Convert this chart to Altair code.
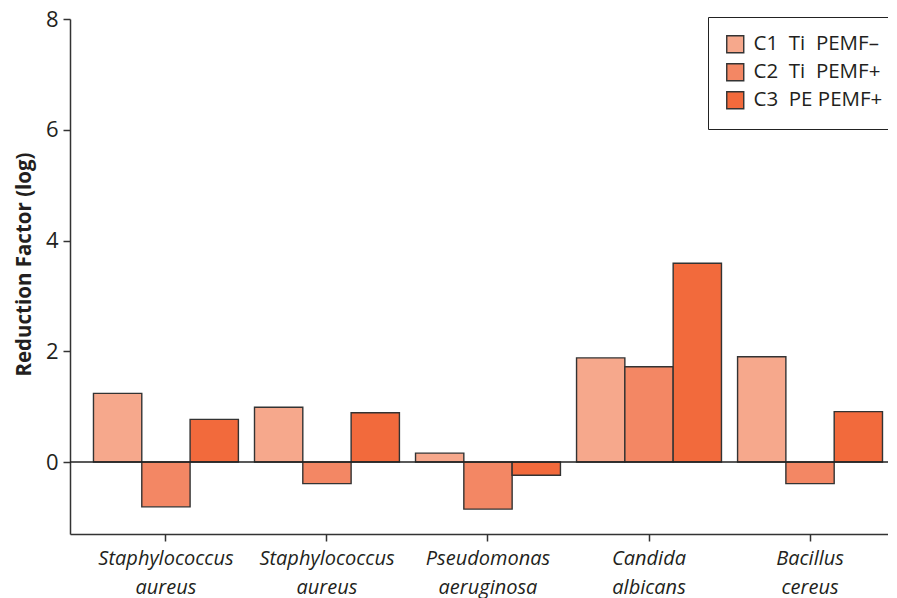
import altair as alt
import pandas as pd

species = ["Staphylococcus aureus|1", "Staphylococcus aureus|2", "Pseudomonas aeruginosa|3",
           "Candida albicans|4", "Bacillus cereus|5"]
series = ["C1\u00a0\u00a0Ti\u00a0\u00a0PEMF\u2013", "C2\u00a0\u00a0Ti\u00a0\u00a0PEMF+", "C3\u00a0\u00a0PE\u00a0PEMF+"]
c1 = [1.24, 0.99, 0.16, 1.88, 1.90]
c2 = [-0.81, -0.39, -0.85, 1.72, -0.39]
c3 = [0.77, 0.89, -0.24, 3.59, 0.91]
colors = ["#F6A88C", "#F38764", "#F26A3C"]
y_ticks = [0, 2, 4, 6, 8]

rows = []
for vals, s in zip([c1, c2, c3], series):
    for sp, v in zip(species, vals):
        rows.append({"species": sp, "series": s, "value": v})
df = pd.DataFrame(rows)

FONT = "Open Sans"
TXT = "#231f20"

bars = alt.Chart(df).mark_bar(stroke="#333333", strokeWidth=1.4).encode(
    x=alt.X("species:N", sort=species, title=None,
            scale=alt.Scale(paddingInner=0.1, paddingOuter=0.09, align=0.81),
            axis=alt.Axis(labelExpr="split(split(datum.label, '|')[0], ' ')",
                          labelAngle=0, labelFontStyle="italic", labelFontSize=20,
                          labelFont=FONT, labelColor=TXT, labelLineHeight=29,
                          labelPadding=7, tickSize=7, tickColor="#333333",
                          domainColor="#333333", domainWidth=1.5, tickWidth=1.5,
                          labelOverlap=False)),
    xOffset=alt.XOffset("series:N", sort=series,
                        scale=alt.Scale(paddingInner=0, paddingOuter=0)),
    y=alt.Y("value:Q", title="Reduction Factor (log)",
            scale=alt.Scale(domain=[-1.3, 8], nice=False, zero=False),
            axis=alt.Axis(values=y_ticks, grid=False, labelFontSize=22, labelFont=FONT,
                          labelColor=TXT, tickSize=7, tickColor="#333333", tickWidth=1.5,
                          domainColor="#333333", domainWidth=1.5, labelPadding=5,
                          titleFont=FONT, titleFontSize=20.5, titleFontWeight="bold",
                          titleColor=TXT, titlePadding=11, titleY=245)),
    fill=alt.Fill("series:N", sort=series,
                  scale=alt.Scale(domain=series, range=colors),
                  legend=alt.Legend(title=None, orient="none", legendX=638, legendY=-2,
                                    strokeColor="#222222", padding=17, symbolType="square",
                                    symbolSize=289, symbolStrokeColor="#333333",
                                    symbolStrokeWidth=1.4, labelFontSize=20.5, labelFont=FONT,
                                    labelColor=TXT, labelOffset=8, rowPadding=4,
                                    fillColor="white")),
)

zero = alt.Chart(pd.DataFrame({"v": [0]})).mark_rule(color="#222222", strokeWidth=1.5).encode(
    y=alt.Y("v:Q")
)

chart = alt.layer(bars, zero).properties(
    width=818, height=515,
    autosize=alt.AutoSizeParams(type="none"),
    padding={"left": 62, "top": 11, "right": 0, "bottom": 64},
).configure_view(stroke=None)

chart.save("out.html", embed_options={"renderer": "svg", "actions": False})
